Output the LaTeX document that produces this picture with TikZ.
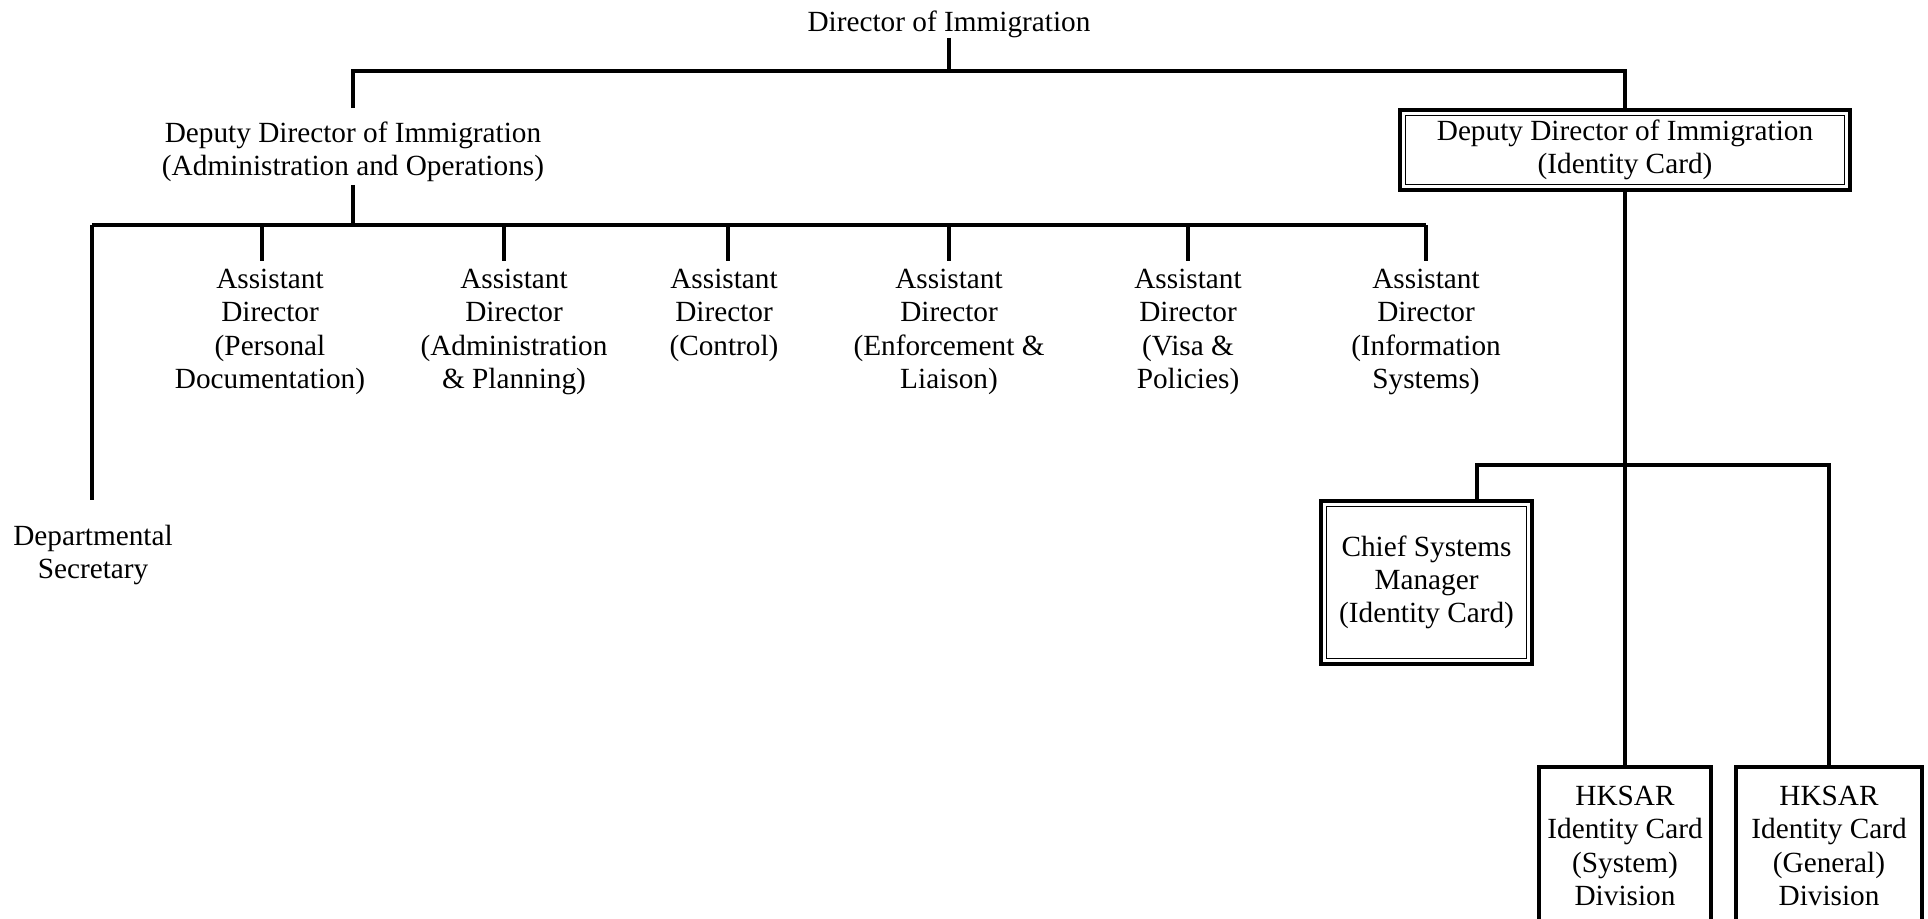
\documentclass[tikz,border=0pt]{standalone}
\usepackage{fontspec}
\setmainfont{Liberation Serif}
\begin{document}
\begin{tikzpicture}[x=0.41pt, y=-0.41pt,
  conn/.style={line width=1.4pt},
  post/.style={align=center, inner sep=0pt, font=\fontsize{12pt}{13.65pt}\selectfont},
  box/.style={post, draw, line width=1.4pt, outer sep=0pt},
  dblbox/.style={post, draw, line width=1.7pt, outer sep=0pt}]

  \useasboundingbox (0,0) rectangle (1928,918);

  % Director and deputies
  \node[post, anchor=base] (dir) at (949,31) {Director of Immigration};
  \node[post, anchor=north, outer ysep=1.2pt] (ddao) at (353,119)
    {Deputy Director of Immigration\\(Administration and Operations)};
  \node[dblbox, minimum width=184.5pt, minimum height=32.8pt] (ddic) at (1625,150)
    {Deputy Director of Immigration\\(Identity Card)};

  % Assistant directors
  \node[post, anchor=north, outer ysep=3.3pt] (ad1) at (270,261) {Assistant\\Director\\(Personal\\Documentation)};
  \node[post, anchor=north, outer ysep=3.3pt] (ad2) at (514,261) {Assistant\\Director\\(Administration\\\& Planning)};
  \node[post, anchor=north, outer ysep=3.3pt] (ad3) at (724,261) {Assistant\\Director\\(Control)};
  \node[post, anchor=north, outer ysep=3.3pt] (ad4) at (949,261) {Assistant\\Director\\(Enforcement \&\\Liaison)};
  \node[post, anchor=north, outer ysep=3.3pt] (ad5) at (1188,261) {Assistant\\Director\\(Visa \&\\Policies)};
  \node[post, anchor=north, outer ysep=3.3pt] (ad6) at (1426,261) {Assistant\\Director\\(Information\\Systems)};
  \node[post, anchor=north, outer ysep=10.25pt] (ds) at (93,500) {Departmental\\Secretary};

  % Identity card branch
  \node[dblbox, minimum width=86.5pt, minimum height=66.8pt] (csm) at (1426.5,582.5)
    {Chief Systems\\Manager\\(Identity Card)};
  \node[box, anchor=north, inner ysep=7.8pt, minimum width=70.5pt] (hk1) at (1625,767)
    {HKSAR\\Identity Card\\(System)\\Division};
  \node[box, anchor=north, inner ysep=7.8pt, minimum width=76.3pt] (hk2) at (1829,767)
    {HKSAR\\Identity Card\\(General)\\Division};

  % inner lines of the double boxes
  \foreach \n in {ddic,csm}
    \draw[line width=0.6pt] ([xshift=2.2pt,yshift=-2.2pt]\n.north west) rectangle ([xshift=-2.2pt,yshift=2.2pt]\n.south east);

  % Director to deputies
  \coordinate (j1) at (950,71);
  \draw[conn] (dir.south) -- (dir.south |- j1);
  \draw[conn] ([yshift=4.5pt]ddao.north) |- (j1) -| (ddic.north);

  % Deputy (A&O) to assistant directors
  \foreach \i/\x in {0/92,1/262,2/504,3/728,4/949,5/1188,6/1426}
    \coordinate (d\i) at (\x,225);
  \draw[conn] (ddao.south) -- (ddao.south |- d0);
  \draw[conn] (d0) -- (d6);
  \draw[conn] (d0) -- (d0 |- ds.north);
  \foreach \i in {1,...,6}
    \draw[conn] (d\i) -- (d\i |- ad\i.north);

  % Deputy (ID card) to divisions
  \coordinate (k1) at (1477,465);
  \draw[conn] (ddic.south) -- (ddic.south |- hk1.north);
  \draw[conn] (k1 |- csm.north) -- (k1) -| (hk2.north);

\end{tikzpicture}
\end{document}
